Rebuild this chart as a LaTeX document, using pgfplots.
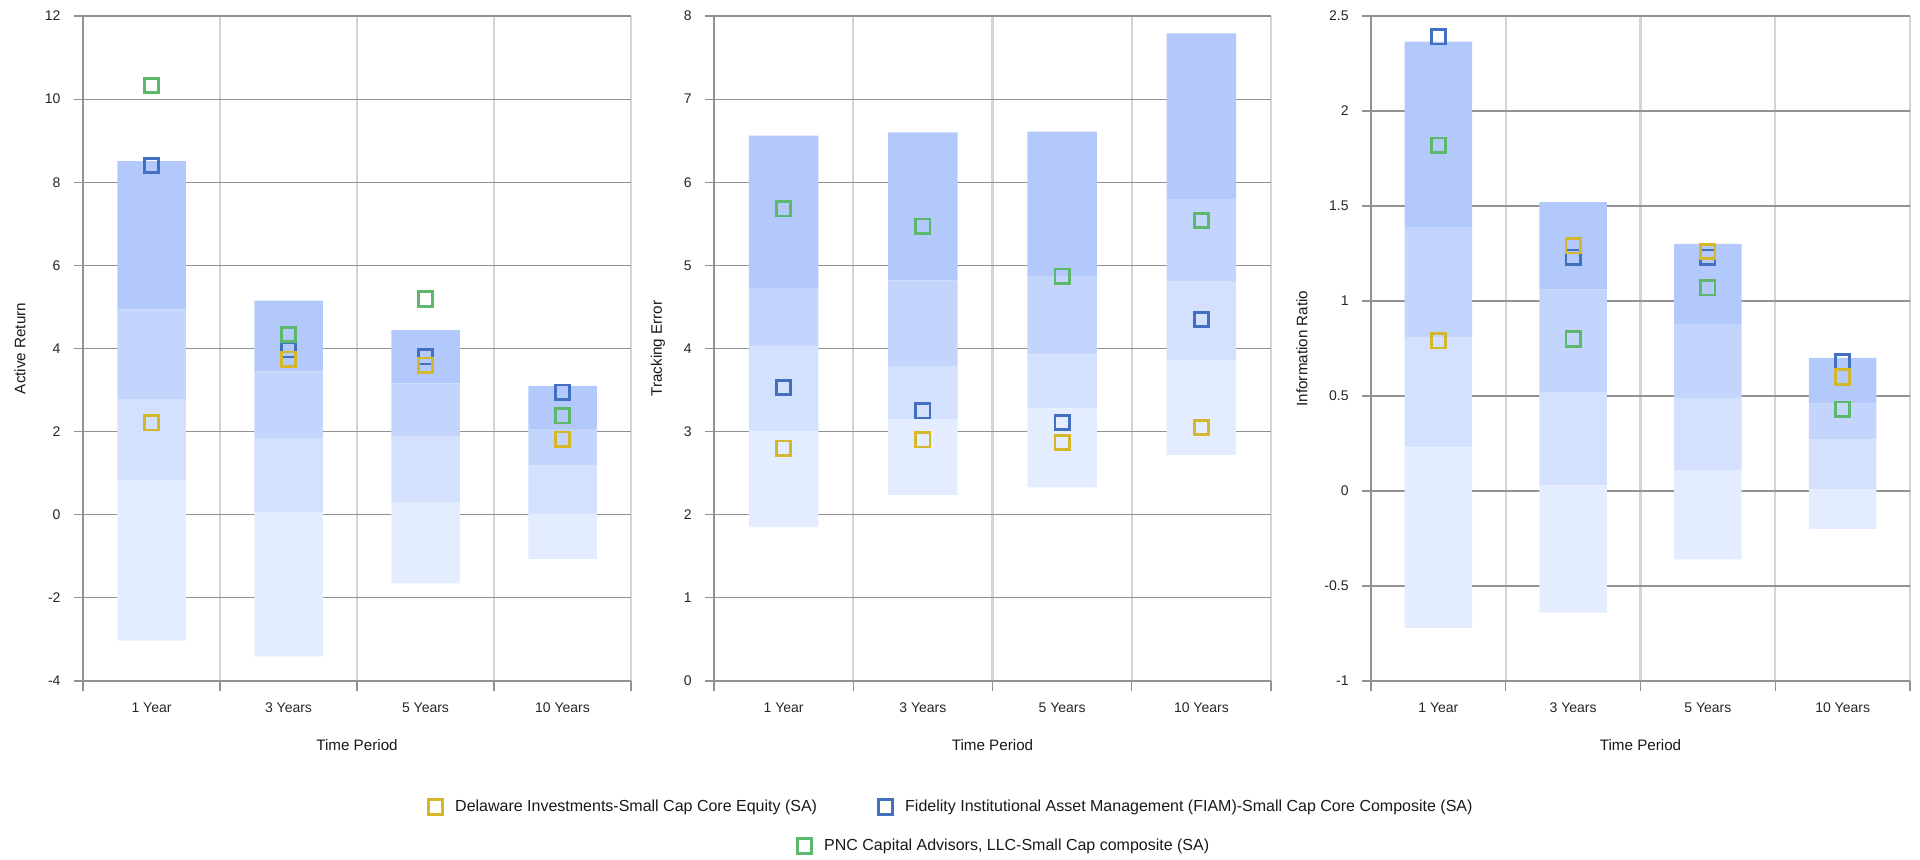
\documentclass[border=0pt]{standalone}
\usepackage{pgfplots}
\pgfplotsset{compat=1.18}
\usepackage{pgfplotstable}
\usepackage{fontspec}
\setmainfont{Liberation Sans}
\definecolor{bandA}{HTML}{E4EDFF}
\definecolor{bandB}{HTML}{D4E1FE}
\definecolor{bandC}{HTML}{C4D5FD}
\definecolor{bandD}{HTML}{B3C9FC}
\definecolor{cdel}{HTML}{D4B82A}
\definecolor{cfid}{HTML}{426FBF}
\definecolor{cpnc}{HTML}{5CB86B}
\definecolor{hgrid}{HTML}{929292}
\definecolor{vgrid}{HTML}{D4D4D4}

% band boundaries (bottom to top) per period
\pgfplotstableread{
x b0 b1 b2 b3 b4
0 -3.03 0.82 2.79 4.94 8.51
1 -3.41 0.06 1.85 3.45 5.15
2 -1.65 0.31 1.88 3.16 4.44
3 -1.06 0.02 1.18 2.06 3.10
}\ARbands
\pgfplotstableread{
x del fid pnc
0 2.21 8.40 10.33
1 3.74 3.97 4.34
2 3.60 3.80 5.19
3 1.82 2.95 2.38
}\ARpts
\pgfplotstableread{
x b0 b1 b2 b3 b4
0 1.85 3.01 4.03 4.73 6.56
1 2.24 3.15 3.79 4.82 6.60
2 2.33 3.28 3.93 4.87 6.61
3 2.72 3.86 4.81 5.80 7.79
}\TEbands
\pgfplotstableread{
x del fid pnc
0 2.80 3.53 5.68
1 2.90 3.25 5.47
2 2.87 3.11 4.87
3 3.05 4.35 5.54
}\TEpts
\pgfplotstableread{
x b0 b1 b2 b3 b4
0 -0.72 0.23 0.81 1.39 2.365
1 -0.64 0.03 0.52 1.06 1.52
2 -0.36 0.11 0.49 0.88 1.30
3 -0.20 0.01 0.27 0.46 0.70
}\IRbands
\pgfplotstableread{
x del fid pnc
0 0.79 2.39 1.82
1 1.29 1.23 0.80
2 1.26 1.23 1.07
3 0.60 0.68 0.43
}\IRpts

\pgfplotsset{
  panel/.style={
    scale only axis, height=332.5pt, anchor=south west,
    ybar stacked, stack negative=on previous, bar width=0.5,
    xmin=-0.5, xmax=3.5,
    xtick={0,1,2,3},
    xticklabels={1 Year,3 Years,5 Years,10 Years},
    minor xtick={-0.5,0.5,1.5,2.5,3.5},
    xminorgrids=true, ymajorgrids=true,
    minor x grid style={draw=vgrid, line width=1.1pt},
    major y grid style={draw=hgrid, line width=0.6pt},
    major x tick style={draw=none},
    minor x tick style={draw=hgrid, line width=0.6pt},
    y tick style={draw=hgrid, line width=0.6pt},
    tick align=outside, major tick length=4.5pt, minor tick length=5pt,
    axis x line*=bottom, axis y line*=left,
    axis line style={draw=hgrid, line width=0.6pt, -},
    tick label style={font=\fontsize{7}{8}\selectfont, text=black!85},
    /pgf/number format/assume math mode=true,
    xticklabel style={anchor=north, yshift=-2.8pt},
    yticklabel style={anchor=east, xshift=-3.2pt},
    label style={font=\fontsize{7.6}{9}\selectfont, text=black!90},
    xlabel={Time Period},
    xlabel style={at={(axis description cs:0.5,-0.0962)}, anchor=center},
  },
  mk/.style={stack plots=false, only marks, mark=square, mark size=3.6pt,
    mark options={line width=1.35pt, fill=none}},
}

\newcommand{\drawbands}[1]{%
  \addplot[draw=none, fill=none] table[x=x, y=b0] {#1};
  \addplot[draw=none, fill=bandA] table[x=x, y expr=\thisrow{b1}-\thisrow{b0}] {#1};
  \addplot[draw=none, fill=bandB] table[x=x, y expr=\thisrow{b2}-\thisrow{b1}] {#1};
  \addplot[draw=none, fill=bandC] table[x=x, y expr=\thisrow{b3}-\thisrow{b2}] {#1};
  \addplot[draw=none, fill=bandD] table[x=x, y expr=\thisrow{b4}-\thisrow{b3}] {#1};
}
\newcommand{\drawpts}[1]{%
  \addplot[mk, draw=cdel] table[x=x, y=del] {#1};
  \addplot[mk, draw=cpnc] table[x=x, y=pnc] {#1};
  \addplot[mk, draw=cfid] table[x=x, y=fid] {#1};
}

\begin{document}
\begin{tikzpicture}
\path[use as bounding box] (0,0) rectangle (960pt,430pt);

\begin{axis}[panel, at={(41.5pt,89.5pt)}, width=274pt,
  ymin=-4, ymax=12, ytick={-4,-2,...,12},
  ylabel={Active Return},
  ylabel style={at={(axis description cs:-0.115,0.5)}, anchor=center}]
\drawbands{\ARbands}
\drawpts{\ARpts}
\end{axis}

\begin{axis}[panel, at={(357pt,89.5pt)}, width=278.5pt,
  ymin=0, ymax=8, ytick={0,1,...,8},
  ylabel={Tracking Error},
  ylabel style={at={(axis description cs:-0.1005,0.5)}, anchor=center}]
\drawbands{\TEbands}
\drawpts{\TEpts}
\end{axis}

\begin{axis}[panel, at={(685.5pt,89.5pt)}, width=269.5pt,
  ymin=-1, ymax=2.5, ytick={-1,-0.5,...,2.5},
  ylabel={Information Ratio},
  ylabel style={at={(axis description cs:-0.128,0.5)}, anchor=center}]
\drawbands{\IRbands}
\drawpts{\IRpts}
\end{axis}

% legends
\pgfplotsset{
  legax/.style={hide axis, scale only axis, width=960pt, height=430pt,
    at={(0,0)}, anchor=south west, xmin=0, xmax=1, ymin=0, ymax=1,
    legend image code/.code={\draw[##1] plot coordinates {(4.2pt,0pt)};},
    legend style={draw=none, fill=none, inner sep=0pt, anchor=west,
      font=\fontsize{8}{9.5}\selectfont, text=black!90,
      nodes={inner sep=0pt}, column sep=6.2pt}},
}
\begin{axis}[legax, legend style={at={(214/960,26.5/430)}}]
\addlegendimage{mk, draw=cdel}
\addlegendentry{Delaware Investments-Small Cap Core Equity (SA)}
\end{axis}
\begin{axis}[legax, legend style={at={(439/960,26.5/430)}}]
\addlegendimage{mk, draw=cfid}
\addlegendentry{Fidelity Institutional Asset Management (FIAM)-Small Cap Core Composite (SA)}
\end{axis}
\begin{axis}[legax, legend style={at={(398.5/960,7/430)}}]
\addlegendimage{mk, draw=cpnc}
\addlegendentry{PNC Capital Advisors, LLC-Small Cap composite (SA)}
\end{axis}
\end{tikzpicture}
\end{document}
